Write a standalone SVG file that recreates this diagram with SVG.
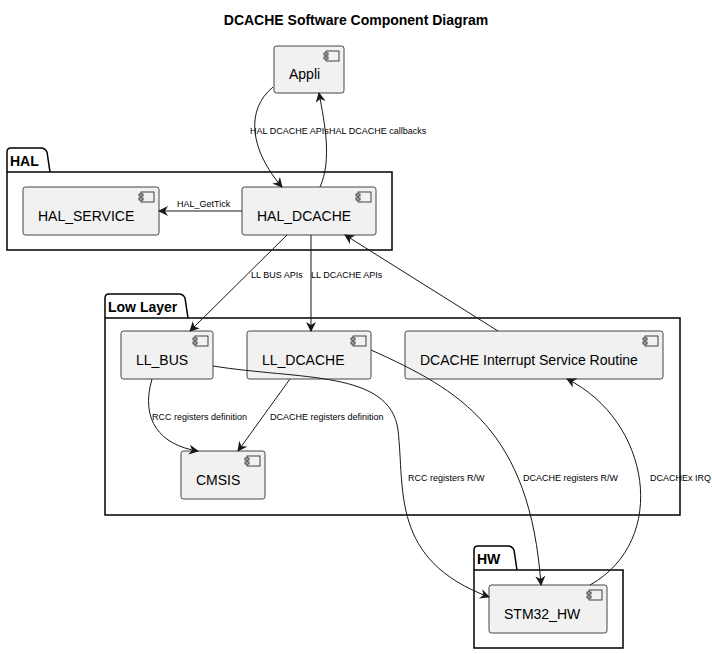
<svg xmlns="http://www.w3.org/2000/svg" width="712" height="654" viewBox="0 0 712 654">
<defs>
<marker id="ah" viewBox="0 0 10 10" refX="9" refY="5" markerWidth="10" markerHeight="10" markerUnits="userSpaceOnUse" orient="auto"><path d="M0,0 L10,5 L0,10 L3,5 Z" fill="#181818"/></marker>
<g id="ic"><rect x="0" y="0" width="13" height="10" fill="#F1F1F1" stroke="#181818" stroke-width="0.8"/><rect x="-2" y="2" width="4" height="2" fill="#F1F1F1" stroke="#181818" stroke-width="0.8"/><rect x="-2" y="6" width="4" height="2" fill="#F1F1F1" stroke="#181818" stroke-width="0.8"/></g>
</defs>
<style>
.n{fill:#F1F1F1;stroke:#181818;stroke-width:0.8}
.p{fill:none;stroke:#000;stroke-width:1.5}
.t{font-family:"Liberation Sans",Arial,sans-serif;font-size:14px;fill:#000}
.pt{font-family:"Liberation Sans",Arial,sans-serif;font-size:14px;font-weight:bold;fill:#000}
.l{font-family:"Liberation Sans",Arial,sans-serif;font-size:9px;fill:#000}
.e{fill:none;stroke:#181818;stroke-width:1;marker-end:url(#ah)}
</style>
<rect width="712" height="654" fill="#fff"/>
<text x="356" y="25" text-anchor="middle" class="pt">DCACHE Software Component Diagram</text>
<g id="pkg-HAL"><path class="p" d="M7,172 V152 Q7,148 11,148 H41 Q45,148 47,152 L50,172 H392 V250 H7 Z M7,172 H50"/><text x="10" y="166" class="pt">HAL</text></g>
<g id="pkg-LowLayer"><path class="p" d="M105,318 V298 Q105,294 109,294 H179 Q183,294 185,298 L188,318 H680 V515 H105 Z M105,318 H188"/><text x="108" y="312" class="pt">Low Layer</text></g>
<g id="pkg-HW"><path class="p" d="M474,570 V550 Q474,546 478,546 H508 Q512,546 514,550 L517,570 H623 V648 H474 Z M474,570 H517"/><text x="477" y="564" class="pt">HW</text></g>
<g id="Appli"><rect class="n" x="274" y="46" width="70" height="47" rx="2.5"/><use href="#ic" x="326" y="51"/><text x="289" y="79" class="t">Appli</text></g>
<g id="HAL_SERVICE"><rect class="n" x="23" y="187" width="136" height="48" rx="2.5"/><use href="#ic" x="141" y="192"/><text x="38" y="221" class="t">HAL_SERVICE</text></g>
<g id="HAL_DCACHE"><rect class="n" x="242" y="187" width="134" height="48" rx="2.5"/><use href="#ic" x="358" y="192"/><text x="257" y="221" class="t">HAL_DCACHE</text></g>
<g id="LL_BUS"><rect class="n" x="121" y="331" width="92" height="48" rx="2.5"/><use href="#ic" x="195" y="336"/><text x="136" y="365" class="t">LL_BUS</text></g>
<g id="LL_DCACHE"><rect class="n" x="247" y="331" width="124" height="48" rx="2.5"/><use href="#ic" x="353" y="336"/><text x="262" y="365" class="t">LL_DCACHE</text></g>
<g id="ISR"><rect class="n" x="405" y="331" width="258" height="48" rx="2.5"/><use href="#ic" x="645" y="336"/><text x="420" y="365" class="t">DCACHE Interrupt Service Routine</text></g>
<g id="CMSIS"><rect class="n" x="181" y="451" width="84" height="48" rx="2.5"/><use href="#ic" x="247" y="456"/><text x="196" y="485" class="t">CMSIS</text></g>
<g id="STM32_HW"><rect class="n" x="489" y="585" width="118" height="48" rx="2.5"/><use href="#ic" x="589" y="590"/><text x="504" y="619" class="t">STM32_HW</text></g>
<g id="connectors">
<path class="e" d="M273,87 C245,110 250,150 282,187"/>
<text x="250" y="134" class="l">HAL DCACHE APIs</text>
<path class="e" d="M320,187 C332,160 325,125 319,93"/>
<text x="329" y="134" class="l">HAL DCACHE callbacks</text>
<path class="e" d="M242,211 L159,211"/>
<text x="177" y="207" class="l">HAL_GetTick</text>
<path class="e" d="M287,235 L190,331"/>
<text x="251" y="278" class="l">LL BUS APIs</text>
<path class="e" d="M311,235 L311,331"/>
<text x="311" y="278" class="l">LL DCACHE APIs</text>
<path class="e" d="M498,331 L345,235"/>
<text x="152" y="420" class="l">RCC registers definition</text>
<path class="e" d="M152,379 C140,420 160,445 198,451"/>
<path class="e" d="M290,379 L238,451"/>
<text x="270" y="420" class="l">DCACHE registers definition</text>
<path class="e" d="M213,366 C300,380 390,370 398,430 C405,490 390,560 489,597"/>
<text x="408" y="481" class="l">RCC registers R/W</text>
<path class="e" d="M371,350 C460,390 530,430 541,585"/>
<text x="523" y="481" class="l">DCACHE registers R/W</text>
<path class="e" d="M590,585 C670,540 650,420 567,379"/>
<text x="650" y="481" class="l">DCACHEx IRQ</text>
</g>
</svg>
